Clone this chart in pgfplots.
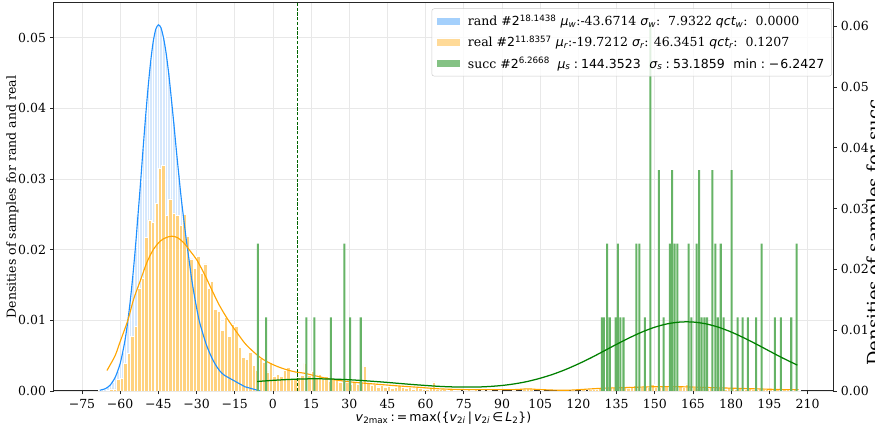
\documentclass[border=0pt]{standalone}
\usepackage{fontspec}
\setmainfont{DejaVu Serif}
\newfontfamily\dvs{DejaVu Sans}
\usepackage{pgfplots}
\pgfplotsset{compat=1.18}
\usepackage{pgfplotstable}
\usetikzlibrary{calc}

\definecolor{cblue}{RGB}{30,144,255}
\definecolor{corange}{RGB}{255,165,0}
\definecolor{cgreen}{RGB}{0,128,0}
\definecolor{cdash}{RGB}{0,100,0}
\definecolor{bluebar}{RGB}{214,232,253}
\definecolor{orangebar}{RGB}{255,210,127}
\definecolor{greenbar}{RGB}{102,179,102}
\definecolor{bluepatch}{RGB}{142,197,252}
\definecolor{gridc}{RGB}{232,232,232}
\definecolor{framec}{RGB}{38,38,38}
\definecolor{legc}{RGB}{204,204,204}

% rand: histogram bins (width 1) and density curve
\pgfplotstableread{
x y
-68 0.0001
-67 0.0002
-66 0.0003
-65 0.0005
-64 0.0008
-63 0.0013
-62 0.0019
-61 0.0028
-60 0.0039
-59 0.0055
-58 0.0074
-57 0.0099
-56 0.0129
-55 0.0164
-54 0.0204
-53 0.0249
-52 0.0295
-51 0.0343
-50 0.0389
-49 0.0431
-48 0.0467
-47 0.0495
-46 0.0512
-45 0.0518
-44 0.0514
-43 0.0500
-42 0.0479
-41 0.0451
-40 0.0417
-39 0.0381
-38 0.0343
-37 0.0307
-36 0.0272
-35 0.0242
-34 0.0213
-33 0.0187
-32 0.0160
-31 0.0138
-30 0.0118
-29 0.0100
-28 0.0087
-27 0.0075
-26 0.0064
-25 0.0055
-24 0.0047
-23 0.0040
-22 0.0034
-21 0.0029
-20 0.0025
-19 0.0022
-18 0.0020
-17 0.0018
-16 0.0016
-15 0.0014
-14 0.0012
-13 0.0010
-12 0.0008
-11 0.0006
-10 0.0005
-9 0.0004
-8 0.0003
-7 0.0002
-6 0.0001
-5 0.0000
}\randtab

% real: histogram bins (width 1.3625)
\pgfplotstableread{
x y
-64.82 0.0001
-63.46 0.0003
-62.09 0.0003
-60.73 0.0016
-59.37 0.0018
-58.01 0.0039
-56.64 0.0053
-55.28 0.0077
-53.92 0.0091
-52.56 0.0145
-51.19 0.0159
-49.83 0.0217
-48.47 0.0242
-47.11 0.0239
-45.74 0.0265
-44.38 0.0315
-43.02 0.0319
-41.66 0.0249
-40.29 0.0272
-38.93 0.0252
-37.57 0.0249
-36.21 0.0234
-34.84 0.0250
-33.48 0.0219
-32.12 0.0187
-30.76 0.0174
-29.39 0.0190
-28.03 0.0166
-26.67 0.0180
-25.31 0.0145
-23.94 0.0155
-22.58 0.0115
-21.22 0.0113
-19.86 0.0086
-18.49 0.0104
-17.13 0.0077
-15.77 0.0095
-14.41 0.0091
-13.04 0.0062
-11.68 0.0048
-10.32 0.0045
-8.96 0.0055
-7.59 0.0036
-6.23 0.0029
-4.87 0.0046
-3.51 0.0040
-2.14 0.0027
-0.78 0.0041
0.58 0.0021
1.94 0.0024
3.31 0.0021
4.67 0.0029
6.03 0.0033
7.39 0.0018
8.76 0.0017
10.12 0.0020
11.48 0.0022
12.84 0.0039
14.21 0.0022
15.57 0.0028
16.93 0.0019
18.29 0.0024
19.66 0.0017
21.02 0.0021
22.38 0.0014
23.74 0.0018
25.11 0.0016
26.47 0.0012
27.83 0.0015
29.19 0.0013
30.56 0.0010
31.92 0.0014
33.28 0.0009
34.64 0.0012
36.01 0.0035
37.37 0.0011
38.73 0.0008
40.09 0.0010
41.46 0.0006
42.82 0.0008
44.18 0.0005
45.54 0.0007
46.91 0.0004
48.27 0.0006
49.63 0.0008
50.99 0.0005
52.36 0.0004
53.72 0.0006
55.08 0.0003
56.44 0.0005
57.81 0.0004
59.17 0.0003
60.53 0.0002
61.89 0.0004
63.26 0.0013
64.62 0.0003
65.98 0.0002
67.34 0.0003
68.71 0.0001
70.07 0.0002
71.43 0.0001
72.79 0.0001
75.52 0.0001
76.88 0.0002
78.24 0.0001
79.61 0.0002
82.33 0.0001
85.06 0.0001
89.14 0.0001
94.59 0.0001
98.68 0.0002
100.04 0.0004
101.41 0.0003
105.49 0.0001
112.31 0.0001
117.76 0.0001
121.84 0.0002
124.57 0.0002
125.93 0.0003
127.29 0.0002
128.66 0.0004
130.02 0.0005
131.38 0.0004
132.74 0.0006
134.11 0.0005
135.47 0.0004
136.83 0.0006
138.19 0.0005
139.56 0.0004
140.92 0.0007
142.28 0.0008
143.64 0.0006
145.01 0.0005
146.37 0.0007
147.73 0.0006
149.09 0.0009
150.46 0.0006
151.82 0.0005
153.18 0.0007
154.54 0.0008
155.91 0.0014
157.27 0.0006
158.63 0.0005
159.99 0.0007
161.36 0.0006
162.72 0.0010
164.08 0.0005
165.44 0.0006
166.81 0.0004
168.17 0.0005
169.53 0.0006
170.89 0.0004
172.26 0.0005
173.62 0.0004
174.98 0.0006
176.34 0.0004
177.71 0.0003
179.07 0.0005
180.43 0.0004
181.79 0.0003
183.16 0.0004
184.52 0.0003
185.88 0.0003
187.24 0.0004
188.61 0.0002
189.97 0.0003
191.33 0.0002
192.69 0.0003
194.06 0.0002
195.42 0.0003
196.78 0.0002
198.14 0.0002
199.51 0.0003
200.87 0.0002
202.23 0.0002
203.59 0.0001
204.96 0.0002
206.32 0.0001
}\realbars

% real: density curve
\pgfplotstableread{
x y
-65.2 0.0029
-62 0.0050
-60 0.0070
-57 0.0100
-54.7 0.0130
-52 0.0157
-49.5 0.0182
-47 0.0200
-44.3 0.0212
-42 0.0217
-39.7 0.0219
-37.5 0.0217
-35.1 0.0210
-32.5 0.0198
-30 0.0186
-27 0.0166
-24 0.0143
-21 0.0121
-17.5 0.0100
-14 0.0082
-10.9 0.0067
-7.5 0.0055
-4.4 0.0046
-1 0.0039
2.2 0.0034
5.5 0.0030
8.7 0.0027
12.6 0.0025
16 0.0022
22.4 0.0017
30 0.0013
39.4 0.0010
50 0.0007
58 0.0005
65.6 0.0003
75 0.0002
85 0.0002
95 0.0002
100 0.0003
105 0.0002
115 0.0001
125 0.0003
130 0.0004
140 0.0005
150 0.0006
160 0.0006
170 0.0005
180 0.0004
190 0.0003
200 0.0002
206.5 0.0002
}\realcurve

% succ: histogram bars (right axis)
\pgfplotstableread{
x y
-5.93 0.02422
-2.67 0.01211
13.15 0.01211
16.29 0.01211
22.72 0.01211
28.06 0.02422
30.30 0.01211
34.50 0.01211
129.2 0.01211
130.0 0.01211
131.3 0.02422
132.3 0.01211
134.6 0.01211
135.5 0.02422
136.5 0.01211
137.7 0.01211
142.8 0.02422
143.9 0.02422
146.1 0.01211
148.3 0.06055
151.6 0.03633
153.5 0.01211
155.9 0.02422
156.8 0.03633
157.8 0.02422
158.9 0.02422
163.3 0.02422
164.4 0.01211
166.4 0.02422
167.4 0.03633
168.4 0.01211
169.5 0.01211
170.5 0.01211
172.6 0.03633
173.8 0.02422
174.8 0.01211
175.9 0.02422
177.0 0.01211
180.2 0.03633
182.5 0.01211
184.5 0.01211
186.6 0.01211
189.8 0.01211
192.0 0.02422
197.2 0.01211
199.5 0.01211
203.6 0.01211
205.7 0.02422
}\succbars

% succ: density curve (right axis)
\pgfplotstableread{
x y
-6.24 0.00156
0 0.00175
5 0.00187
10 0.00196
15 0.00200
20 0.00199
25 0.00194
30 0.00185
35 0.00172
40 0.00157
45 0.00141
50 0.00123
55 0.00106
60 0.00091
65 0.00077
70 0.00068
75 0.00064
80 0.00065
85 0.00074
90 0.00091
95 0.00118
100 0.00157
105 0.00210
110 0.00275
115 0.00354
120 0.00446
125 0.00547
130 0.00657
135 0.00768
140 0.00874
145 0.00970
150 0.01049
155 0.01105
160 0.01134
165 0.01134
170 0.01105
175 0.01049
180 0.00970
185 0.00874
190 0.00768
195 0.00657
200 0.00547
206 0.00425
}\succcurve

\begin{document}
\begin{tikzpicture}
\pgfplotsset{
  common/.style={
    scale only axis, width=623.2pt, height=310.4pt,
    xmin=-86, xmax=220, ymin=0,
    tick align=outside, major tick length=2.8pt,
    every tick/.style={framec, line width=0.64pt},
    axis line style={framec, line width=0.8pt},
    scaled y ticks=false,
  },
}
\begin{axis}[common, name=main,
  ymax=0.0549,
  xtick={-75,-60,-45,-30,-15,0,15,30,45,60,75,90,105,120,135,150,165,180,195,210},
  xticklabels={−75,−60,−45,−30,−15,0,15,30,45,60,75,90,105,120,135,150,165,180,195,210},
  ytick={0,0.01,0.02,0.03,0.04,0.05},
  yticklabels={0.00,0.01,0.02,0.03,0.04,0.05},
  xtick pos=bottom, ytick pos=left,
  grid=major, major grid style={gridc, line width=0.64pt},
  ylabel={Densities of samples for rand and real},
  ylabel shift=-7pt,
  xlabel={\dvs\textit{v}\textsubscript{2max}\,:\,=\,max(\{\textit{v}\textsubscript{2\textit{i}}\,|\,\textit{v}\textsubscript{2\textit{i}}\,∈\,\textit{L}\textsubscript{2}\})},
  xlabel shift=-4pt,
]
\addplot[ybar, bar shift=0pt, bar width=1, fill=bluebar, draw=white, line width=0.3pt] table[x=x,y=y] {\randtab};
\addplot[ybar, bar shift=0pt, bar width=1.3625, fill=orangebar, draw=white, line width=0.4pt] table[x=x,y=y] {\realbars};
\addplot[cblue, line width=0.9pt, smooth] table[x=x,y=y] {\randtab};
\addplot[corange, line width=0.9pt, smooth] table[x=x,y=y] {\realcurve};
\addplot[cdash, line width=0.8pt, dash pattern=on 2.6pt off 1.2pt] coordinates {(9.6,0) (9.6,0.0549)};
\end{axis}
\begin{axis}[common,
  at={(main.south west)}, anchor=south west,
  ymax=0.0638,
  axis x line=none, axis y line*=right,
  ytick={0,0.01,0.02,0.03,0.04,0.05,0.06},
  yticklabels={0.00,0.01,0.02,0.03,0.04,0.05,0.06},
  ylabel={Densities of samples for succ},
  every axis y label/.style={at={(axis description cs:1.0433,0.4085)}, anchor=north, rotate=90, inner sep=0pt, font=\fontsize{14.4}{17}\selectfont},
  legend cell align=left,
  legend image code/.code={\fill[#1, draw=none, sharp corners] (0pt,-2.9pt) rectangle (18.7pt,2.9pt); \path (22.7pt,0pt);},
  legend style={at={(0.9987,0.986)}, anchor=north east, draw=legc, rounded corners=2pt,
    fill=white, fill opacity=0.8, text opacity=1, row sep=2.5pt, inner xsep=4pt, inner ysep=3pt},
]
\addlegendimage{fill=bluepatch}
\addlegendentry{rand \#{\dvs 2\textsuperscript{18.1438}} {\dvs\itshape μ\textsubscript{w}}:-43.6714 {\dvs\itshape σ\textsubscript{w}}:\ \ 7.9322 {\dvs\itshape qct\textsubscript{w}}:\ \ 0.0000}
\addlegendimage{fill=orangebar}
\addlegendentry{real \#{\dvs 2\textsuperscript{11.8357}} {\dvs\itshape μ\textsubscript{r}}:-19.7212 {\dvs\itshape σ\textsubscript{r}}: 46.3451 {\dvs\itshape qct\textsubscript{r}}:\ \ 0.1207}
\addlegendimage{fill=greenbar}
\addlegendentry{succ \#{\dvs 2\textsuperscript{6.2668}}\hspace{6pt}{\dvs{\itshape μ\textsubscript{s}}\kern2.5pt:\kern2.5pt144.3523\hspace{7pt}{\itshape σ\textsubscript{s}}\kern2.5pt:\kern2.5pt53.1859\hspace{7pt}min\kern3pt:\kern3pt−\kern1pt6.2427}}
\addplot[forget plot, ybar, bar shift=0pt, bar width=0.8, fill=greenbar, draw=none] table[x=x,y=y] {\succbars};
\addplot[forget plot, cgreen, line width=1pt, smooth] table[x=x,y=y] {\succcurve};
\end{axis}
\pgfresetboundingbox
\path[use as bounding box] ($(main.south west)+(-43.2pt,-32pt)$) rectangle ($(main.north east)+(33.6pt,2.4pt)$);
\end{tikzpicture}
\end{document}
